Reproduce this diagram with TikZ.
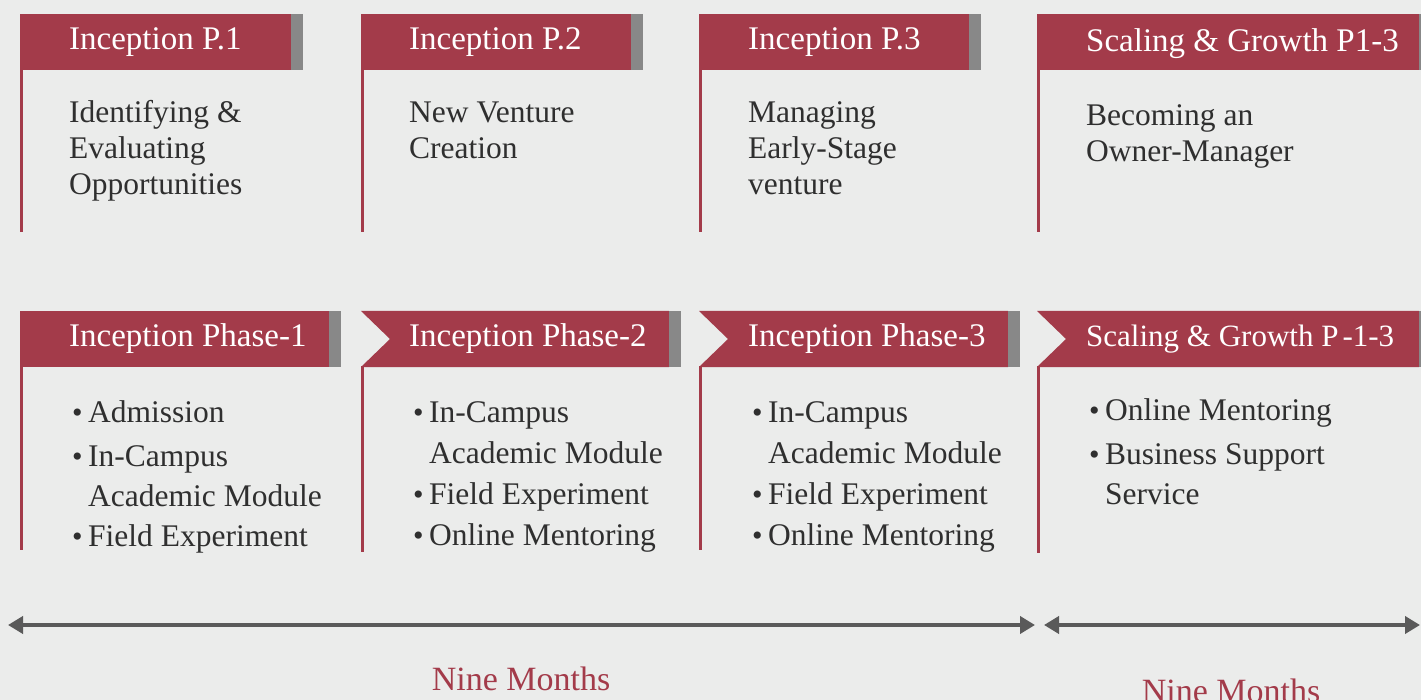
\documentclass[tikz,border=0pt]{standalone}
\usepackage{fontspec}
\setmainfont{Liberation Serif}
\usetikzlibrary{arrows.meta}
\definecolor{wine}{HTML}{A33B4A}
\definecolor{barg}{HTML}{888888}
\definecolor{bgc}{HTML}{EBECEB}
\definecolor{ink}{HTML}{2F2F2F}
\definecolor{axisg}{HTML}{5A5A5A}
\newcommand\dotitem{\makebox[16pt][l]{\raisebox{0pt}{\fontsize{30}{30}\selectfont\textbullet}}}
\newcommand\dotpad{\hspace*{16pt}}
\begin{document}
\begin{tikzpicture}[x=1pt,y=-1pt,
  head/.style={anchor=base west, inner sep=0pt, white, font=\fontsize{33}{36}\selectfont},
  body/.style={anchor=base west, inner sep=0pt, text=ink, align=left, font=\fontsize{31.5}{36}\selectfont},
  list/.style={body, font=\fontsize{31.5}{39.7}\selectfont},
  list4/.style={body, font=\fontsize{31.5}{40.7}\selectfont},
  stem/.style={wine, line width=3pt},
  span/.style={axisg, line width=4pt, {Triangle[length=15pt,width=17pt]}-{Triangle[length=15pt,width=17pt]}},
  months/.style={anchor=base, inner sep=0pt, text=wine, font=\fontsize{34}{36}\selectfont}]
\fill[bgc] (0,0) rectangle (1421,700);
\useasboundingbox (0,0) rectangle (1421,700);
\clip (0,0) rectangle (1421,700);
% top row
\fill[wine] (20,14) rectangle (291,70);
\fill[barg] (291,14) rectangle (303,70);
\draw[stem] (21,70) -- (21,232);
\node[head] (top0) at (69,50) {Inception P.1};
\node[body] (txt0) at (69,195) {Identifying \&\\Evaluating\\Opportunities};
\fill[wine] (361,14) rectangle (631,70);
\fill[barg] (631,14) rectangle (643,70);
\draw[stem] (362,70) -- (362,232);
\node[head] (top1) at (409,50) {Inception P.2};
\node[body] (txt1) at (409,159) {New Venture\\Creation};
\fill[wine] (699,14) rectangle (969,70);
\fill[barg] (969,14) rectangle (981,70);
\draw[stem] (700,70) -- (700,232);
\node[head] (top2) at (748,50) {Inception P.3};
\node[body] (txt2) at (748,195) {Managing\\Early-Stage\\venture};
\fill[wine] (1037,14) rectangle (1419,70);
\fill[barg] (1419,14) rectangle (1431,70);
\draw[stem] (1038,70) -- (1038,232);
\node[head] (top3) at (1086,52) {Scaling \& Growth P1-3};
\node[body] (txt3) at (1086,162) {Becoming an\\Owner-Manager};
% bottom row
\fill[wine] (20,311) rectangle (329,367);
\fill[barg] (329,311) rectangle (341,367);
\draw[stem] (21,367) -- (21,550);
\node[head] (ph0) at (69,347) {Inception Phase-1};
\node[list] (lst0) at (72,546) {\dotitem Admission\\[4pt]\dotitem In-Campus\\\dotpad Academic Module\\\dotitem Field Experiment};
\fill[wine] (361,311) -- (669,311) -- (669,367) -- (361,367) -- (390,339) -- cycle;
\fill[barg] (669,311) rectangle (681,367);
\draw[stem] (362,366) -- (362,552);
\node[head] (ph1) at (409,347) {Inception Phase-2};
\node[list4] (lst1) at (413,545) {\dotitem In-Campus\\\dotpad Academic Module\\\dotitem Field Experiment\\\dotitem Online Mentoring};
\fill[wine] (699,311) -- (1008,311) -- (1008,367) -- (699,367) -- (728,339) -- cycle;
\fill[barg] (1008,311) rectangle (1020,367);
\draw[stem] (700,366) -- (700,550);
\node[head] (ph2) at (748,347) {Inception Phase-3};
\node[list4] (lst2) at (752,545) {\dotitem In-Campus\\\dotpad Academic Module\\\dotitem Field Experiment\\\dotitem Online Mentoring};
\fill[wine] (1037,311) -- (1419,311) -- (1419,367) -- (1037,367) -- (1066,339) -- cycle;
\fill[barg] (1419,311) rectangle (1431,367);
\draw[stem] (1038,366) -- (1038,553);
\node[head, font=\fontsize{31}{36}\selectfont] (ph3) at (1086,347) {Scaling \& Growth P\hspace{4pt}-1-3};
\node[list] (lst3) at (1089,504) {\dotitem Online Mentoring\\[4pt]\dotitem Business Support\\\dotpad Service};
% time spans
\coordinate (s0) at (8,625);
\coordinate (s1) at (1035,625);
\coordinate (s2) at (1044,625);
\coordinate (s3) at (1420,625);
\draw[span] (s0) -- (s1);
\draw[span] (s2) -- (s3);
\node[months] (m0) at (521,690) {Nine Months};
\node[months] (m1) at (1231,702) {Nine Months};
\end{tikzpicture}
\end{document}
